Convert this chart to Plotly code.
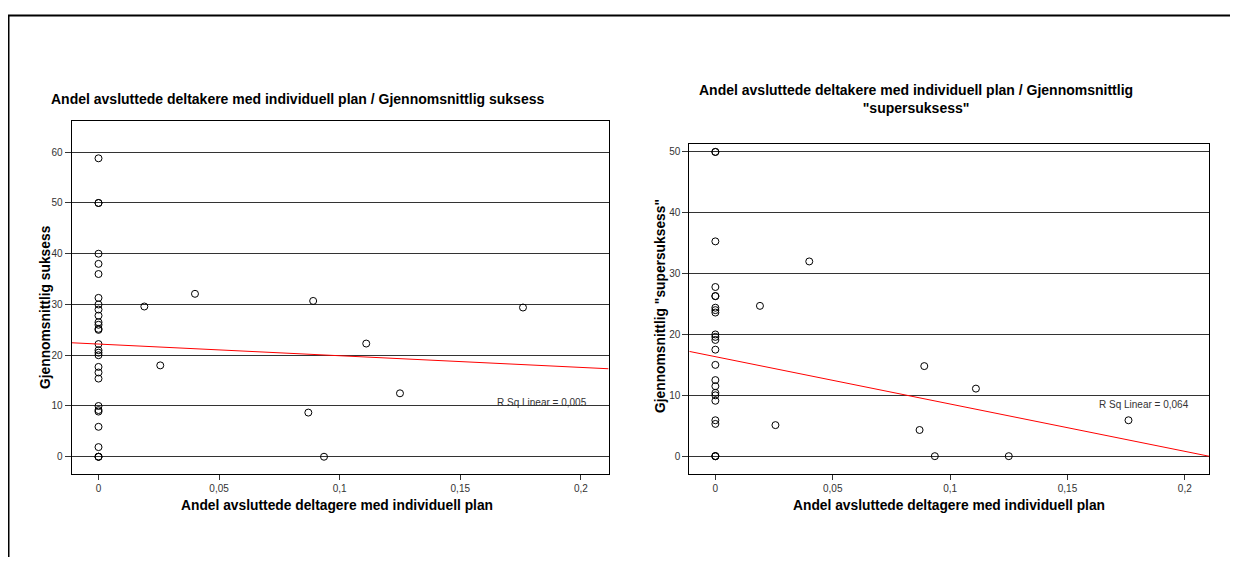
import plotly.graph_objects as go

# page body has an 8px margin; figure sized to fill the rest of the 1238x565 window
OFF = 8
W, H = 1238 - 2 * OFF, 565 - 2 * OFF
FONT = "Liberation Sans, Arial, sans-serif"

# ---- data ----
left_andel = [0, 0, 0, 0, 0, 0, 0, 0, 0, 0, 0, 0, 0, 0, 0, 0, 0, 0, 0, 0, 0, 0, 0, 0, 0, 0, 0, 0, 0,
              0.019, 0.0256, 0.040, 0.087, 0.089, 0.0935, 0.111, 0.125, 0.176]
left_suksess = [58.8, 50, 50, 40, 38, 36, 31.3, 30.0, 29.0, 27.8, 26.5, 26.0, 25.2, 25.0, 22.2, 21.0,
                20.5, 20.0, 17.7, 16.6, 15.4, 10.0, 9.2, 8.9, 5.9, 1.9, 0, 0, 0,
                29.6, 18.0, 32.1, 8.7, 30.7, 0, 22.3, 12.5, 29.4]

right_andel = [0, 0, 0, 0, 0, 0, 0, 0, 0, 0, 0, 0, 0, 0, 0, 0, 0, 0, 0, 0, 0, 0, 0, 0,
               0.019, 0.0256, 0.040, 0.087, 0.089, 0.0935, 0.111, 0.125, 0.176]
right_super = [50, 50, 35.3, 27.8, 26.3, 26.3, 24.4, 24.0, 23.6, 20.0, 19.6, 19.1, 17.5, 15.0, 12.5,
               11.5, 10.4, 10.0, 9.1, 5.9, 5.3, 0, 0, 0,
               24.7, 5.1, 32.0, 4.3, 14.8, 0, 11.1, 0, 5.9]

# linear fits (intercept, slope) and R squared labels
left_fit = (22.2, -23.0)
right_fit = (16.35, -77.8)
left_r2 = "R Sq Linear = 0,005"
right_r2 = "R Sq Linear = 0,064"

left_xrange = [-0.0112, 0.2115]
left_yrange = [-3.4, 66.15]
right_xrange = [-0.0111, 0.2103]
right_yrange = [-2.85, 51.3]

x_ticks = [0, 0.05, 0.1, 0.15, 0.2]
left_yticks = [0, 10, 20, 30, 40, 50, 60]
right_yticks = [0, 10, 20, 30, 40, 50]

title_left = "Andel avsluttede deltakere med individuell plan / Gjennomsnittlig suksess"
title_right = "Andel avsluttede deltakere med individuell plan / Gjennomsnittlig<br>\"supersuksess\""
xtitle = "Andel avsluttede deltagere med individuell plan"
ytitle_left = "Gjennomsnittlig suksess"
ytitle_right = "Gjennomsnittlig \"supersuksess\""


def px_x(p):
    return (p - OFF) / W


def px_y(p):
    return 1 - (p - OFF) / H


fig = go.Figure()

marker = dict(symbol="circle-open", size=7, color="black", line=dict(width=1, color="black"))

fig.add_trace(go.Scatter(x=left_andel, y=left_suksess, mode="markers", marker=marker,
                         xaxis="x", yaxis="y", showlegend=False, cliponaxis=False))
fig.add_trace(go.Scatter(x=right_andel, y=right_super, mode="markers", marker=marker,
                         xaxis="x2", yaxis="y2", showlegend=False, cliponaxis=False))

lx = left_xrange
fig.add_trace(go.Scatter(x=lx, y=[left_fit[0] + left_fit[1] * v for v in lx], mode="lines",
                         line=dict(color="#ff0000", width=1), xaxis="x", yaxis="y",
                         showlegend=False, hoverinfo="skip"))
rx = right_xrange
fig.add_trace(go.Scatter(x=rx, y=[right_fit[0] + right_fit[1] * v for v in rx], mode="lines",
                         line=dict(color="#ff0000", width=1), xaxis="x2", yaxis="y2",
                         showlegend=False, hoverinfo="skip"))

tickfont = dict(family=FONT, size=10, color="#333333")
common_x = dict(tickmode="array", tickvals=x_ticks, ticks="outside", ticklen=5, tickcolor="#333333",
                showgrid=False, zeroline=False, showline=True, linecolor="black", linewidth=1,
                mirror=True, tickfont=tickfont)
common_y = dict(tickmode="array", ticks="outside", ticklen=6, tickcolor="#333333",
                showgrid=True, gridcolor="#333333", gridwidth=1, zeroline=False, showline=True,
                linecolor="black", linewidth=1, mirror=True, tickfont=tickfont)

fig.update_layout(
    width=W, height=H, autosize=False,
    margin=dict(l=0, r=0, t=0, b=0),
    paper_bgcolor="white", plot_bgcolor="white",
    separators=", ",
    font=dict(family=FONT, color="black"),
    xaxis=dict(domain=[px_x(71.5), px_x(608.6)], range=left_xrange, anchor="y", **common_x),
    yaxis=dict(domain=[px_y(474), px_y(121)], range=left_yrange, tickvals=left_yticks,
               anchor="x", **common_y),
    xaxis2=dict(domain=[px_x(689.3), px_x(1209)], range=right_xrange, anchor="y2", **common_x),
    yaxis2=dict(domain=[px_y(473.5), px_y(144)], range=right_yrange, tickvals=right_yticks,
                anchor="x2", **common_y),
    showlegend=False,
)

TF = 14     # chart title font size
AF = 13.8   # axis title font size
ann = []
ann.append(dict(text="<b>" + title_left + "</b>", x=px_x(297), y=px_y(99), xref="paper", yref="paper",
                showarrow=False, xanchor="center", yanchor="middle", font=dict(family=FONT, size=TF)))
ann.append(dict(text="<b>" + title_right + "</b>", x=px_x(916), y=px_y(99), xref="paper", yref="paper",
                showarrow=False, xanchor="center", yanchor="middle", align="center",
                font=dict(family=FONT, size=TF)))
ann.append(dict(text="<b>" + xtitle + "</b>", x=px_x(337), y=px_y(505), xref="paper", yref="paper",
                showarrow=False, xanchor="center", yanchor="middle", font=dict(family=FONT, size=AF)))
ann.append(dict(text="<b>" + xtitle + "</b>", x=px_x(949), y=px_y(505), xref="paper", yref="paper",
                showarrow=False, xanchor="center", yanchor="middle", font=dict(family=FONT, size=AF)))
ann.append(dict(text="<b>" + ytitle_left + "</b>", x=px_x(45), y=px_y(307), xref="paper", yref="paper",
                showarrow=False, xanchor="center", yanchor="middle", textangle=-90,
                font=dict(family=FONT, size=AF)))
ann.append(dict(text="<b>" + ytitle_right + "</b>", x=px_x(660), y=px_y(306), xref="paper",
                yref="paper", showarrow=False, xanchor="center", yanchor="middle", textangle=-90,
                font=dict(family=FONT, size=AF)))
ann.append(dict(text=left_r2, x=0.184, y=10.6, xref="x", yref="y", showarrow=False,
                xanchor="center", yanchor="middle", font=dict(family=FONT, size=10, color="#333333")))
ann.append(dict(text=right_r2, x=0.1826, y=8.55, xref="x2", yref="y2", showarrow=False,
                xanchor="center", yanchor="middle", font=dict(family=FONT, size=10, color="#333333")))
fig.update_layout(annotations=ann)

# outer frame (left and top edges visible)
fig.add_shape(type="line", xref="paper", yref="paper", x0=px_x(8.75), x1=px_x(8.75), y0=px_y(15.5),
              y1=0, line=dict(color="black", width=1.5))
fig.add_shape(type="line", xref="paper", yref="paper", x0=px_x(8), x1=1, y0=px_y(15.5),
              y1=px_y(15.5), line=dict(color="black", width=2))

fig.write_html("out.html")
